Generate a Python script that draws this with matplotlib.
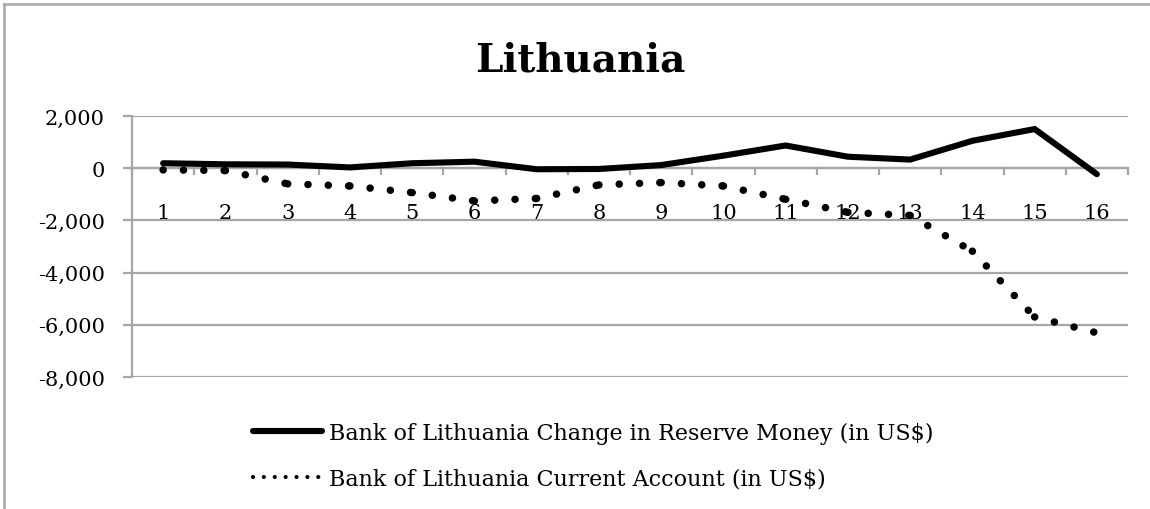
import matplotlib
matplotlib.use("Agg")
import matplotlib.pyplot as plt
from matplotlib.lines import Line2D
import numpy as np

# data
periods = list(range(1, 17))
reserve_money = [190, 150, 140, 30, 190, 250, -40, -30, 120, 480, 870, 440, 330, 1050, 1500, -230]
current_account = [-65, -90, -600, -680, -935, -1255, -1160, -640, -550, -680, -1190, -1690, -1810, -3180, -5700, -6310]
y_ticks = [2000, 0, -2000, -4000, -6000, -8000]
labels = ["Bank of Lithuania Change in Reserve Money (in US$)",
          "Bank of Lithuania Current Account (in US$)"]

GRID = "#a6a6a6"
plt.rcParams['font.family'] = ['DejaVu Serif']

fig = plt.figure(figsize=(11.5, 5.1), dpi=100)
ax = fig.add_axes([132/1150, 1-378/510, (1128-132)/1150, (378-117)/510])

ax.set_xlim(0.5, 16.5)
ax.set_ylim(-8000, 2000)

# gridlines
for v in y_ticks:
    ax.axhline(v, color=GRID, lw=1.6, zorder=1)

# reserve money - thick solid
ax.plot(periods, reserve_money, color="black", lw=4.4, solid_joinstyle="miter",
        solid_capstyle="round", zorder=3)

# current account - round dots, pattern restarts at every segment
for i in range(len(periods) - 1):
    ax.plot(periods[i:i+2], current_account[i:i+2], color="black", lw=5.4,
            linestyle=(0, (0.01, 2.7)), dash_capstyle="round", zorder=3)

for s in ["top", "right", "bottom"]:
    ax.spines[s].set_visible(False)
ax.spines["left"].set_color(GRID)
ax.spines["left"].set_linewidth(1.6)

# y axis
ax.set_yticks(y_ticks)
ax.set_yticklabels([f"{v:,}" for v in y_ticks], fontsize=15)
ax.tick_params(axis="y", direction="out", length=6.5, width=1.6, color=GRID, pad=13)

# category axis crossing at 0
ax.set_xticks(np.arange(0.5, 17, 1))
ax.set_xticklabels([])
ax.set_xticks(periods, minor=True)
ax.set_xticklabels([str(p) for p in periods], minor=True)
ax.tick_params(axis="x", which="major", length=0)
ax.tick_params(axis="x", which="minor", length=0, pad=25, labelsize=15)
ax.spines["bottom"].set_visible(True)
ax.spines["bottom"].set_position(("data", 0))
ax.spines["bottom"].set_color(GRID)
ax.spines["bottom"].set_linewidth(1.6)
for b in np.arange(0.5, 17, 1):
    ax.plot([b, b], [0, -230], color=GRID, lw=1.6, zorder=1, clip_on=False)

fig.text(580/1150, 1-60/510, "Lithuania", ha="center", va="center",
         fontsize=28, fontweight="bold")

# legend
h1 = Line2D([], [], color="black", lw=4.4, solid_capstyle="round")
h2 = Line2D([], [], color="black", lw=3.0, linestyle=(0, (0.01, 2.6)), dash_capstyle="round")
fig.legend([h1, h2], labels, loc="upper left", bbox_to_anchor=(242/1150, 1-412/510),
           frameon=False, fontsize=16, handlelength=3.1, handletextpad=0.3,
           labelspacing=1.05, borderpad=0)

# chart border (top and left visible)
fig.add_artist(Line2D([4/1150, 4/1150], [0, 1-5/510], color=GRID, lw=1.8))
fig.add_artist(Line2D([4/1150, 1], [1-5/510, 1-5/510], color=GRID, lw=1.8))

fig.savefig("out.png", dpi=100)
